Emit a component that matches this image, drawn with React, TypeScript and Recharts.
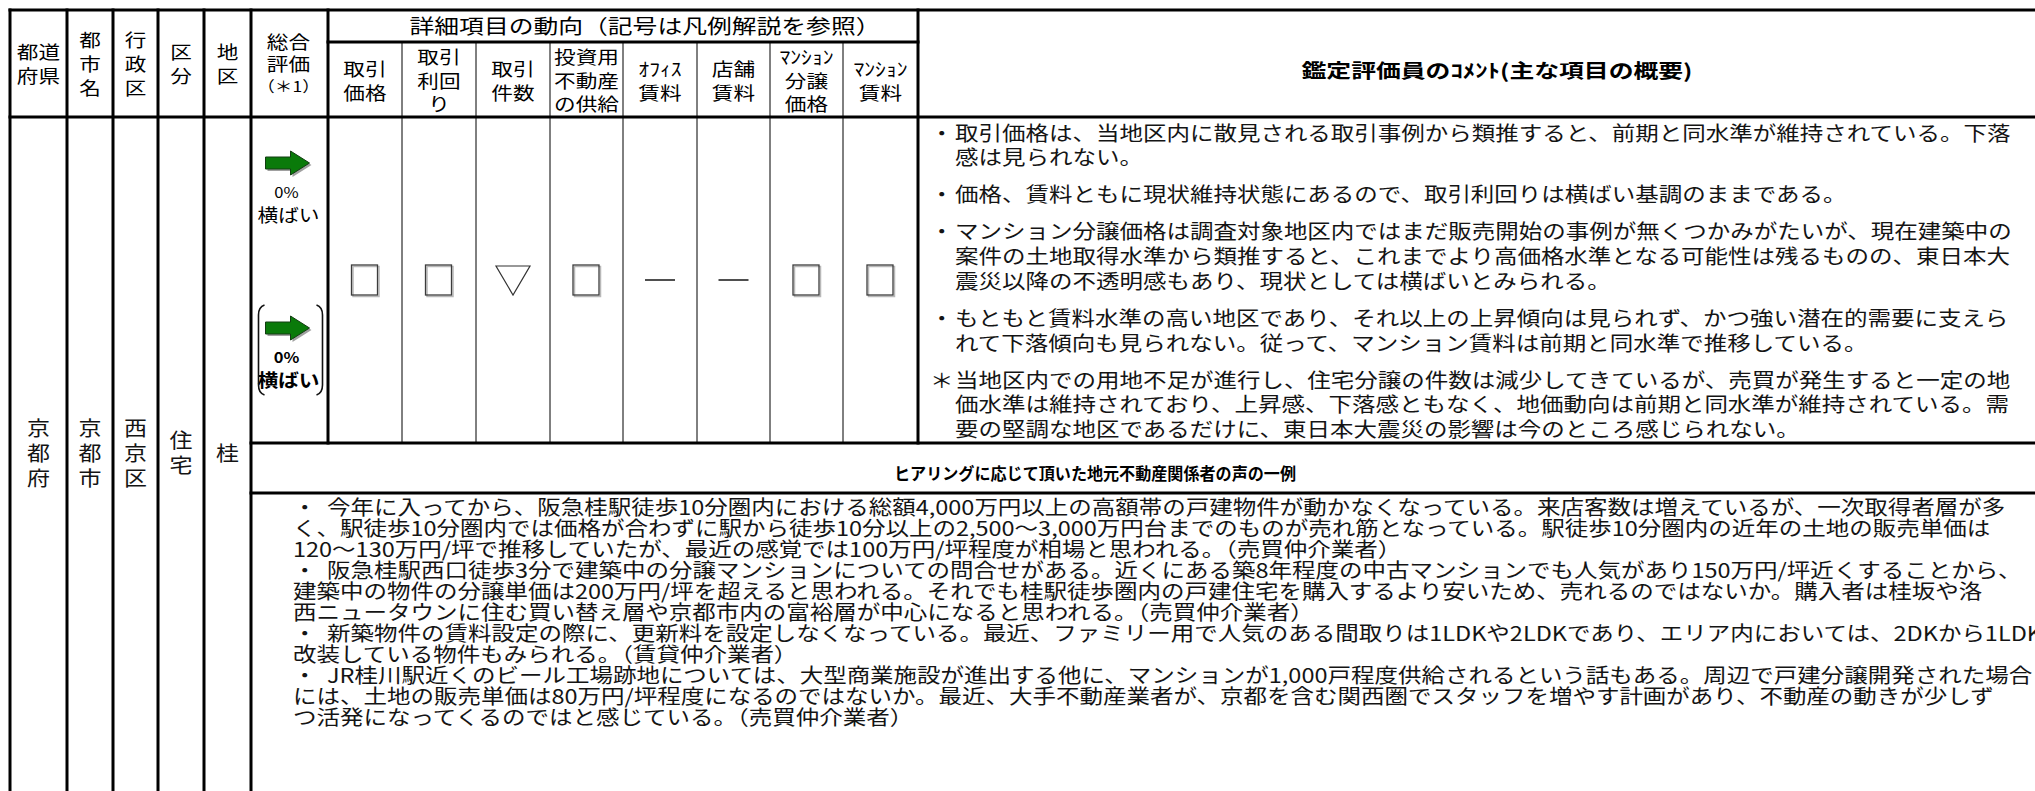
import React from "react";
import { ComposedChart, XAxis, YAxis, ReferenceLine, Scatter, Customized } from "recharts";

const W = 2035;
const H = 791;

// ---- table content ----
const LOCATION_HEADERS = [["都道", "府県"], ["都", "市", "名"], ["行", "政", "区"], ["区", "分"], ["地", "区"]];
const LOCATION_VALUES = [["京", "都", "府"], ["京", "都", "市"], ["西", "京", "区"], ["住", "宅"], ["桂"]];

const OVERALL_HEADER = ["総合", "評価", "（＊1）"];
// current period, then previous period (shown in brackets)
const OVERALL_PCT = ["0%", "0%"];
const OVERALL_LABEL = ["横ばい", "横ばい"];

const DETAIL_TITLE = "詳細項目の動向（記号は凡例解説を参照）";
const DETAIL_ITEMS = [
  ["取引", "価格"],
  ["取引", "利回", "り"],
  ["取引", "件数"],
  ["投資用", "不動産", "の供給"],
  ["ｵﾌｨｽ", "賃料"],
  ["店舗", "賃料"],
  ["ﾏﾝｼｮﾝ", "分譲", "価格"],
  ["ﾏﾝｼｮﾝ", "賃料"],
];
const DETAIL_TRENDS = ["square", "square", "down", "square", "none", "none", "square", "square"];

const COMMENT_TITLE = "鑑定評価員のｺﾒﾝﾄ(主な項目の概要)";
const COMMENT_MARKS = ["・", "・", "・", "・", "＊"];
const COMMENTS = [
  ["取引価格は、当地区内に散見される取引事例から類推すると、前期と同水準が維持されている。下落", "感は見られない。"],
  ["価格、賃料ともに現状維持状態にあるので、取引利回りは横ばい基調のままである。"],
  [
    "マンション分譲価格は調査対象地区内ではまだ販売開始の事例が無くつかみがたいが、現在建築中の",
    "案件の土地取得水準から類推すると、これまでより高価格水準となる可能性は残るものの、東日本大",
    "震災以降の不透明感もあり、現状としては横ばいとみられる。",
  ],
  [
    "もともと賃料水準の高い地区であり、それ以上の上昇傾向は見られず、かつ強い潜在的需要に支えら",
    "れて下落傾向も見られない。従って、マンション賃料は前期と同水準で推移している。",
  ],
  [
    "当地区内での用地不足が進行し、住宅分譲の件数は減少してきているが、売買が発生すると一定の地",
    "価水準は維持されており、上昇感、下落感ともなく、地価動向は前期と同水準が維持されている。需",
    "要の堅調な地区であるだけに、東日本大震災の影響は今のところ感じられない。",
  ],
];

const HEARING_TITLE = "ヒアリングに応じて頂いた地元不動産関係者の声の一例";
const HEARINGS = [
  [
    "今年に入ってから、阪急桂駅徒歩10分圏内における総額4,000万円以上の高額帯の戸建物件が動かなくなっている。来店客数は増えているが、一次取得者層が多",
    "く、駅徒歩10分圏内では価格が合わずに駅から徒歩10分以上の2,500～3,000万円台までのものが売れ筋となっている。駅徒歩10分圏内の近年の土地の販売単価は",
    "120～130万円/坪で推移していたが、最近の感覚では100万円/坪程度が相場と思われる。（売買仲介業者）",
  ],
  [
    "阪急桂駅西口徒歩3分で建築中の分譲マンションについての問合せがある。近くにある築8年程度の中古マンションでも人気があり150万円/坪近くすることから、",
    "建築中の物件の分譲単価は200万円/坪を超えると思われる。それでも桂駅徒歩圏内の戸建住宅を購入するより安いため、売れるのではないか。購入者は桂坂や洛",
    "西ニュータウンに住む買い替え層や京都市内の富裕層が中心になると思われる。（売買仲介業者）",
  ],
  [
    "新築物件の賃料設定の際に、更新料を設定しなくなっている。最近、ファミリー用で人気のある間取りは1LDKや2LDKであり、エリア内においては、2DKから1LDKに",
    "改装している物件もみられる。（賃貸仲介業者）",
  ],
  [
    "JR桂川駅近くのビール工場跡地については、大型商業施設が進出する他に、マンションが1,000戸程度供給されるという話もある。周辺で戸建分譲開発された場合",
    "には、土地の販売単価は80万円/坪程度になるのではないか。最近、大手不動産業者が、京都を含む関西圏でスタッフを増やす計画があり、不動産の動きが少しず",
    "つ活発になってくるのではと感じている。（売買仲介業者）",
  ],
];

// ---- layout ----
const LEFT_COLS = [10, 67, 113, 158, 204, 251];
const OVERALL_COL = [251, 328];
const DETAIL_COLS = [328, 402, 476, 550, 623, 697, 770, 843, 918];
const ROW_TOP = 10;
const ROW_SUB = 42;
const ROW_HEAD = 117;
const ROW_BODY = 443;
const ROW_HEAR = 493;

const GOTHIC = "'Noto Sans CJK JP', 'Noto Sans', sans-serif";
const BODY_SIZE = 20;
const BODY_SX = 1.175; // the page is rendered a little wide
const INK = "#141414";

const THICK = 3;
const THIN = 1;

type Seg = [number, number, number, number, number];
const segments: Seg[] = [];
// verticals
LEFT_COLS.forEach((x) => segments.push([x, ROW_TOP, x, H, THICK]));
segments.push([OVERALL_COL[1], ROW_TOP, OVERALL_COL[1], ROW_BODY, THICK]);
DETAIL_COLS.slice(1, -1).forEach((x) => segments.push([x, ROW_SUB, x, ROW_BODY, THIN]));
const lastCol = DETAIL_COLS[DETAIL_COLS.length - 1];
segments.push([lastCol, ROW_TOP, lastCol, ROW_BODY, THICK]);
// horizontals
segments.push([LEFT_COLS[0], ROW_TOP, W, ROW_TOP, THICK]);
segments.push([DETAIL_COLS[0], ROW_SUB, lastCol, ROW_SUB, THICK]);
segments.push([LEFT_COLS[0], ROW_HEAD, W, ROW_HEAD, THICK]);
segments.push([OVERALL_COL[0], ROW_BODY, W, ROW_BODY, THICK]);
segments.push([OVERALL_COL[0], ROW_HEAR, W, ROW_HEAR, THICK]);

const trendData = DETAIL_TRENDS.map((trend, i) => ({
  x: (DETAIL_COLS[i] + DETAIL_COLS[i + 1]) / 2,
  y: 280,
  trend,
}));

const overallData = OVERALL_PCT.map((pct, i) => ({
  x: (OVERALL_COL[0] + OVERALL_COL[1]) / 2 - 2,
  y: i === 0 ? 163 : 328,
  pct,
  label: OVERALL_LABEL[i],
  bracket: i === 1,
}));

function T({
  x,
  y,
  size,
  sx = 1,
  anchor = "middle",
  weight = 400,
  fill = "#000",
  children,
}: {
  x: number;
  y: number;
  size: number;
  sx?: number;
  anchor?: "start" | "middle" | "end";
  weight?: number;
  fill?: string;
  children: React.ReactNode;
}) {
  return (
    <text
      transform={`translate(${x},${y}) scale(${sx},1)`}
      fontSize={size}
      fontFamily={GOTHIC}
      fontWeight={weight}
      textAnchor={anchor}
      dominantBaseline="central"
      fill={fill}
    >
      {children}
    </text>
  );
}

function TrendMark(props: any) {
  const { cx, cy, payload } = props;
  if (payload.trend === "square") {
    return (
      <g>
        <rect x={cx - 12} y={cy - 13.5} width={26} height={30} fill="none" stroke="#b8b8b8" strokeWidth={1.5} />
        <rect x={cx - 13.5} y={cy - 15} width={26} height={30} fill="none" stroke="#3c3c3c" strokeWidth={1.3} />
      </g>
    );
  }
  if (payload.trend === "down") {
    return (
      <polygon
        points={`${cx - 17},${cy - 14} ${cx + 17},${cy - 14} ${cx},${cy + 15}`}
        fill="none"
        stroke="#333"
        strokeWidth={1.2}
      />
    );
  }
  return <line x1={cx - 15} y1={cy} x2={cx + 15} y2={cy} stroke="#222" strokeWidth={1.6} />;
}

function OverallMark(props: any) {
  const { cx, cy, payload } = props;
  const x0 = cx - 22;
  const arrow = `${x0},${cy - 6} ${x0 + 25},${cy - 6} ${x0 + 25},${cy - 12} ${x0 + 44},${cy} ${x0 + 25},${cy + 12} ${x0 + 25},${cy + 6} ${x0},${cy + 6}`;
  const shadow = `${x0 + 2},${cy - 4} ${x0 + 27},${cy - 4} ${x0 + 27},${cy - 10} ${x0 + 46},${cy + 2} ${x0 + 27},${cy + 14} ${x0 + 27},${cy + 8} ${x0 + 2},${cy + 8}`;
  const bl = cx - 29;
  const br = cx + 35;
  const top = cy - 23;
  const bot = cy + 67;
  return (
    <g>
      <polygon points={shadow} fill="#a0a0a0" />
      <polygon points={arrow} fill="#0a7a0a" stroke="#123d12" strokeWidth={1} />
      <T x={cx - 1} y={cy + 29} size={15} sx={1.1} weight={payload.bracket ? 700 : 400}>
        {payload.pct}
      </T>
      <T x={cx + 1} y={cy + 52} size={18} sx={1.15} weight={payload.bracket ? 700 : 400}>
        {payload.label}
      </T>
      {payload.bracket && (
        <g fill="none" stroke="#111" strokeWidth={1.6}>
          <path d={`M ${bl + 6} ${top} Q ${bl} ${top + 2} ${bl} ${top + 10} L ${bl} ${bot - 10} Q ${bl} ${bot - 2} ${bl + 6} ${bot}`} />
          <path d={`M ${br - 6} ${top} Q ${br} ${top + 2} ${br} ${top + 10} L ${br} ${bot - 10} Q ${br} ${bot - 2} ${br - 6} ${bot}`} />
        </g>
      )}
    </g>
  );
}

function TableText() {
  const nodes: React.ReactNode[] = [];
  // location headers + values
  LOCATION_HEADERS.forEach((lines, i) => {
    const cx = (LEFT_COLS[i] + LEFT_COLS[i + 1]) / 2;
    const pitch = 24;
    const mid = (ROW_TOP + ROW_HEAD) / 2;
    lines.forEach((s, j) => {
      nodes.push(
        <T key={`lh${i}-${j}`} x={cx} y={mid + (j - (lines.length - 1) / 2) * pitch} size={18.5} sx={1.17}>
          {s}
        </T>
      );
    });
  });
  LOCATION_VALUES.forEach((lines, i) => {
    const cx = (LEFT_COLS[i] + LEFT_COLS[i + 1]) / 2;
    const pitch = 25;
    const mid = 452;
    lines.forEach((s, j) => {
      nodes.push(
        <T key={`lv${i}-${j}`} x={cx} y={mid + (j - (lines.length - 1) / 2) * pitch} size={20} sx={1.15} fill={INK}>
          {s}
        </T>
      );
    });
  });
  // overall header
  {
    const cx = (OVERALL_COL[0] + OVERALL_COL[1]) / 2 - 1;
    const mid = (ROW_TOP + ROW_HEAD) / 2;
    OVERALL_HEADER.forEach((s, j) => {
      nodes.push(
        <T key={`oh${j}`} x={cx} y={mid + (j - 1) * 22.5} size={j === 2 ? 15 : 18.5} sx={1.17}>
          {s}
        </T>
      );
    });
  }
  // detail headers
  nodes.push(
    <T key="dt" x={645} y={(ROW_TOP + ROW_SUB) / 2 - 0.5} size={20} sx={1.24}>
      {DETAIL_TITLE}
    </T>
  );
  DETAIL_ITEMS.forEach((lines, i) => {
    const cx = (DETAIL_COLS[i] + DETAIL_COLS[i + 1]) / 2;
    const pitch = 23.5;
    const mid = 80;
    lines.forEach((s, j) => {
      nodes.push(
        <T key={`di${i}-${j}`} x={cx} y={mid + (j - (lines.length - 1) / 2) * pitch} size={18.5} sx={1.17}>
          {s}
        </T>
      );
    });
  });
  // comment header
  nodes.push(
    <text
      key="ct"
      x={1497}
      y={(ROW_TOP + ROW_HEAD) / 2 + 6}
      fontSize={19}
      fontWeight={700}
      fontFamily={GOTHIC}
      textAnchor="middle"
      dominantBaseline="central"
      textLength={391}
      lengthAdjust="spacingAndGlyphs"
    >
      {COMMENT_TITLE}
    </text>
  );
  // comments
  let y = 132;
  COMMENTS.forEach((para, p) => {
    if (p > 0) y += 37 - 24.7;
    para.forEach((line, j) => {
      if (j === 0) {
        nodes.push(
          <T key={`cm${p}`} x={930} y={y} size={BODY_SIZE} sx={BODY_SX} anchor="start" fill={INK}>
            {COMMENT_MARKS[p]}
          </T>
        );
      }
      nodes.push(
        <T key={`c${p}-${j}`} x={955} y={y} size={BODY_SIZE} sx={BODY_SX} anchor="start" fill={INK}>
          {line}
        </T>
      );
      y += 24.7;
    });
  });
  // hearing header
  nodes.push(
    <text
      key="ht"
      x={894}
      y={(ROW_BODY + ROW_HEAR) / 2 + 5}
      fontSize={16.5}
      fontWeight={700}
      fontFamily={GOTHIC}
      textAnchor="start"
      dominantBaseline="central"
      textLength={402}
      lengthAdjust="spacingAndGlyphs"
    >
      {HEARING_TITLE}
    </text>
  );
  // hearing lines
  let hy = 506;
  HEARINGS.forEach((para, p) => {
    para.forEach((line, j) => {
      if (j === 0) {
        nodes.push(
          <T key={`hm${p}`} x={293} y={hy} size={BODY_SIZE} sx={BODY_SX} anchor="start" fill={INK}>
            ・
          </T>
        );
      }
      nodes.push(
        <T key={`h${p}-${j}`} x={j === 0 ? 327 : 293} y={hy} size={BODY_SIZE} sx={BODY_SX} anchor="start" fill={INK}>
          {line}
        </T>
      );
      hy += 21;
    });
  });
  return <g>{nodes}</g>;
}

export default function App() {
  return (
    <div style={{ position: "absolute", left: 0, top: 0, width: W, height: H, background: "#fff", overflow: "hidden" }}>
      <ComposedChart width={W} height={H} margin={{ top: 0, right: 0, bottom: 0, left: 0 }}>
        <XAxis type="number" dataKey="x" domain={[0, W]} hide allowDataOverflow />
        <YAxis type="number" dataKey="y" domain={[0, H]} reversed hide allowDataOverflow />
        {segments.map(([x1, y1, x2, y2, w], i) => (
          <ReferenceLine
            key={i}
            segment={[
              { x: x1, y: y1 },
              { x: x2, y: y2 },
            ]}
            stroke="#000"
            strokeWidth={w}
            strokeLinecap="square"
            ifOverflow="visible"
          />
        ))}
        <Scatter data={trendData} shape={<TrendMark />} isAnimationActive={false} />
        <Scatter data={overallData} shape={<OverallMark />} isAnimationActive={false} />
        <Customized component={<TableText />} />
      </ComposedChart>
    </div>
  );
}
